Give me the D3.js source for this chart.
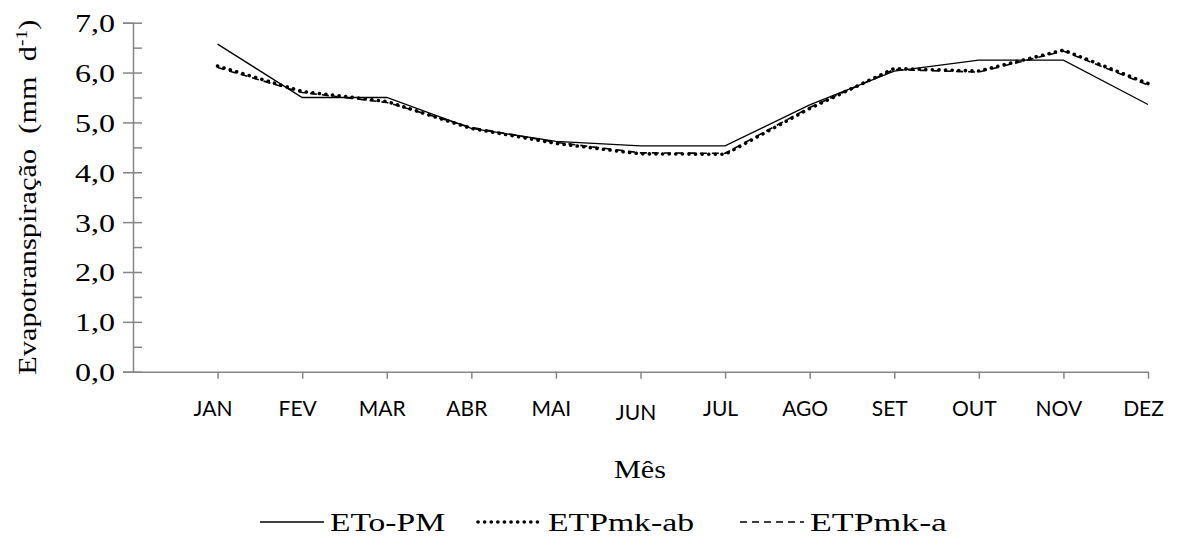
<!DOCTYPE html>
<html>
<head>
<meta charset="utf-8">
<script src="https://cdn.jsdelivr.net/npm/d3@7"></script>
<style>
  body { margin: 0; background: #fff; }
  svg { display: block; }
</style>
</head>
<body>
<script>
// months and series
let months = ["JAN", "FEV", "MAR", "ABR", "MAI", "JUN", "JUL", "AGO", "SET", "OUT", "NOV", "DEZ"];
let etoPM = [6.57, 5.50, 5.50, 4.88, 4.62, 4.53, 4.53, 5.35, 6.03, 6.25, 6.25, 5.36];
let etpMkAb = [6.13, 5.62, 5.42, 4.88, 4.58, 4.37, 4.36, 5.28, 6.08, 6.03, 6.45, 5.78];
let etpMkA = [6.10, 5.60, 5.40, 4.90, 4.60, 4.39, 4.38, 5.30, 6.06, 6.01, 6.43, 5.75];
let yTicks = [0, 1, 2, 3, 4, 5, 6, 7];
let seriesNames = ["ETo-PM", "ETPmk-ab", "ETPmk-a"];

let svgWidth = 1178;
let svgHeight = 542;

let svg = d3.select("body")
  .append("svg")
  .attr("width", svgWidth)
  .attr("height", svgHeight);

let serif = "'Liberation Serif', 'Times New Roman', serif";
let labelFont = "Lato, 'Open Sans', sans-serif";
let axisColor = "#868686";

// scales
let xScale = d3.scaleLinear().domain([0, 12]).range([133, 1148]);
let yScale = d3.scaleLinear().domain([0, 7]).range([371.7, 22.7]);

// y axis: major ticks outside, minor ticks every 0,5 inside
let yAxisG = svg.append("g")
  .attr("transform", `translate(${xScale(0)},0)`)
  .call(d3.axisLeft(yScale).tickValues(yTicks).tickSize(10).tickFormat(d => d3.format(".1f")(d).replace(".", ",")));

let minorTicks = d3.range(0, 7.01, 0.5);
svg.append("g")
  .attr("transform", `translate(${xScale(0)},0)`)
  .call(d3.axisRight(yScale).tickValues(minorTicks).tickSize(9).tickFormat(""))
  .select(".domain").remove();

yAxisG.selectAll("text")
  .attr("x", -18)
  .attr("dy", "0.36em")
  .style("font-family", serif)
  .style("font-size", "25px")
  .attr("fill", "#000")
  .attr("textLength", 40)
  .attr("lengthAdjust", "spacingAndGlyphs");

// x axis
let xAxisG = svg.append("g")
  .attr("transform", `translate(0,${yScale(0)})`)
  .call(d3.axisBottom(xScale).tickValues(d3.range(1, 13)).tickSize(7).tickSizeOuter(0)
    .tickFormat(d => months[d - 1]));

xAxisG.selectAll("text")
  .attr("y", 0)
  .attr("dy", (d, i) => i === 5 ? 48 : 44)
  .attr("x", -5)
  .style("font-family", labelFont)
  .style("font-size", "21px")
  .attr("fill", "#000");

svg.selectAll(".domain, .tick line").attr("stroke", axisColor).attr("stroke-width", 1.5);

// axis titles
svg.append("text")
  .attr("transform", `translate(36,${(yScale(0) + yScale(7)) / 2}) rotate(-90)`)
  .attr("text-anchor", "middle")
  .style("font-family", serif)
  .style("font-size", "25px")
  .attr("textLength", 355)
  .attr("lengthAdjust", "spacingAndGlyphs")
  .html('Evapotranspiração&#160;&#160;(mm&#160;&#160;d<tspan dy="-9" font-size="16">-1</tspan><tspan dy="9">)</tspan>');

svg.append("text")
  .attr("x", 640)
  .attr("y", 478)
  .attr("text-anchor", "middle")
  .style("font-family", serif)
  .style("font-size", "25px")
  .attr("textLength", 52)
  .attr("lengthAdjust", "spacingAndGlyphs")
  .text("Mês");

// lines
let line = d3.line()
  .x((d, i) => xScale(i + 1))
  .y(d => yScale(d));

let styles = [
  { width: 1.3, dash: null, cap: "butt" },
  { width: 3.6, dash: "0.1,6.5", cap: "round" },
  { width: 1.6, dash: "7,5", cap: "butt" }
];
let allSeries = [etoPM, etpMkAb, etpMkA];

svg.selectAll(".series")
  .data(allSeries)
  .enter()
  .append("path")
  .attr("class", "series")
  .attr("d", d => line(d))
  .attr("fill", "none")
  .attr("stroke", "#000")
  .attr("stroke-width", (d, i) => styles[i].width)
  .attr("stroke-dasharray", (d, i) => styles[i].dash)
  .attr("stroke-linecap", (d, i) => styles[i].cap);

// legend
let legendX = [260, 478, 740];
let legendY = 522;
let legend = svg.selectAll(".legend")
  .data(seriesNames)
  .enter()
  .append("g")
  .attr("class", "legend")
  .attr("transform", (d, i) => `translate(${legendX[i]},${legendY})`);

legend.append("line")
  .attr("x1", 0)
  .attr("x2", 64)
  .attr("y1", 0)
  .attr("y2", 0)
  .attr("stroke", "#000")
  .attr("stroke-width", (d, i) => styles[i].width)
  .attr("stroke-dasharray", (d, i) => styles[i].dash)
  .attr("stroke-linecap", (d, i) => styles[i].cap);

let legendTextLen = [115, 146, 137];
legend.append("text")
  .attr("x", 70)
  .attr("y", 9)
  .style("font-family", serif)
  .style("font-size", "25px")
  .attr("textLength", (d, i) => legendTextLen[i])
  .attr("lengthAdjust", "spacingAndGlyphs")
  .text(d => d);
</script>
</body>
</html>
